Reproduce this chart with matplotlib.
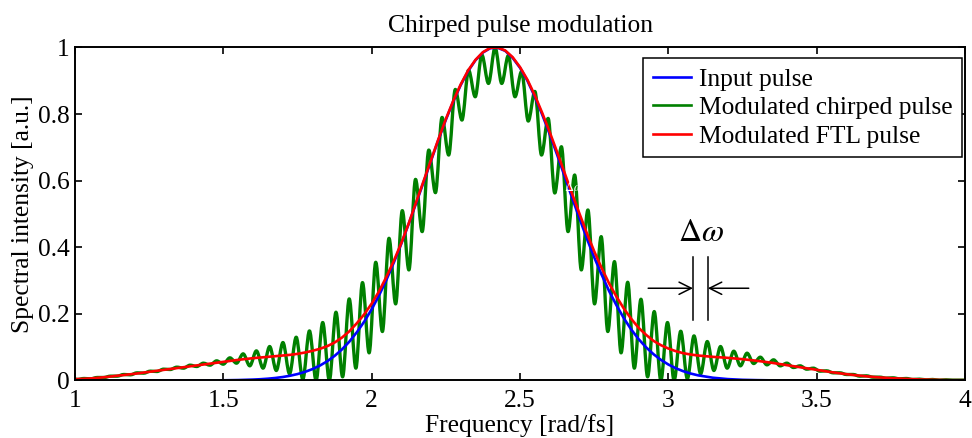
import numpy as np
import matplotlib
matplotlib.use("Agg")
import matplotlib.pyplot as plt
from matplotlib.path import Path
from matplotlib.patches import PathPatch
from matplotlib.lines import Line2D

plt.rcParams['font.family'] = ['Liberation Serif', 'DejaVu Serif']
plt.rcParams['mathtext.fontset'] = 'stix'

# frequency grid for the smooth curves (coarse in the wings, fine in the middle)
freq = np.concatenate([np.linspace(1.0, 1.55, 12),
                       np.linspace(1.6, 3.1, 61),
                       np.linspace(3.15, 4.0, 18)])

input_pulse = [0, 0, 0, 0, 0, 0, 0, 0, 0.0001, 0.0003, 0.0006, 0.0013,
               0.0027, 0.0038, 0.0054, 0.0075, 0.0104, 0.0143, 0.0193, 0.0258,
               0.0341, 0.0446, 0.0577, 0.0739, 0.0935, 0.117, 0.145, 0.177,
               0.214, 0.256, 0.303, 0.355, 0.411, 0.471, 0.533, 0.596, 0.660, 0.723,
               0.783, 0.838, 0.887, 0.929, 0.962, 0.985, 0.998, 0.999, 0.990, 0.969,
               0.939, 0.900, 0.852, 0.798, 0.740, 0.678, 0.614, 0.550, 0.488, 0.427,
               0.370, 0.318, 0.269, 0.226, 0.187, 0.153, 0.124, 0.0996, 0.079, 0.0619,
               0.048, 0.0368, 0.0279, 0.0209, 0.0155,
               0.0083, 0.0042, 0.0020, 0.0010, 0.0004, 0.0002, 0.0001,
               0, 0, 0, 0, 0, 0, 0, 0, 0, 0, 0]

ftl_pulse = [0.004, 0.006, 0.010, 0.015, 0.020, 0.026, 0.032, 0.038, 0.044, 0.050, 0.056, 0.062,
             0.067, 0.069, 0.071, 0.073, 0.075, 0.077, 0.080, 0.084,
             0.089, 0.095, 0.103, 0.114, 0.129, 0.148, 0.172, 0.199,
             0.231, 0.268, 0.312, 0.360, 0.413, 0.472, 0.536, 0.599, 0.662, 0.725,
             0.785, 0.840, 0.889, 0.931, 0.963, 0.986, 0.999, 1.000, 0.991, 0.971,
             0.941, 0.903, 0.856, 0.803, 0.746, 0.686, 0.624, 0.562, 0.502, 0.443,
             0.388, 0.338, 0.292, 0.252, 0.216, 0.185, 0.158, 0.137, 0.119, 0.106,
             0.096, 0.088, 0.082, 0.078, 0.075,
             0.071, 0.068, 0.064, 0.059, 0.053, 0.046, 0.039, 0.032, 0.025,
             0.019, 0.014, 0.010, 0.007, 0.005, 0.003, 0.002, 0.001, 0.001]

# chirped pulse: fringe extrema (peaks and troughs alternate), plus the two end points
fringe_center = 2.416
fringe_half_step = 0.02235
chirped_freq = np.concatenate([[1.0],
                               fringe_center + fringe_half_step * np.arange(-63, 71),
                               [4.0]])
chirped_pulse = [0.004,
                 0.003, 0.006, 0.005, 0.009, 0.009, 0.013, 0.013, 0.018, 0.017, 0.023, 0.022, 0.028,
                 0.027, 0.034, 0.033, 0.040, 0.037, 0.046, 0.042, 0.052, 0.046, 0.059, 0.049, 0.068,
                 0.052, 0.080, 0.044, 0.089, 0.037, 0.102, 0.030, 0.114, 0.020, 0.130,
                 0.003, 0.149, 0.000, 0.174, 0.000, 0.205, 0.011, 0.245, 0.037, 0.294,
                 0.083, 0.355, 0.147, 0.427, 0.230, 0.510, 0.332, 0.604, 0.447, 0.692,
                 0.564, 0.790, 0.677, 0.874, 0.782, 0.932, 0.852, 0.978, 0.892, 1.000,
                 0.892, 0.976, 0.852, 0.928, 0.779, 0.868, 0.677, 0.787, 0.563, 0.702,
                 0.447, 0.617, 0.332, 0.512, 0.230, 0.432, 0.147, 0.357, 0.083, 0.295,
                 0.037, 0.244, 0.011, 0.207, 0.000, 0.174, 0.000, 0.148, 0.005, 0.134,
                 0.020, 0.117, 0.030, 0.102, 0.037, 0.088, 0.044, 0.082, 0.051, 0.070,
                 0.047, 0.062, 0.044, 0.052, 0.039, 0.044, 0.034, 0.037, 0.028, 0.029,
                 0.023, 0.023, 0.018, 0.018, 0.013, 0.014, 0.010, 0.010, 0.007, 0.008,
                 0.005, 0.006, 0.003, 0.004, 0.002, 0.003, 0.001, 0.002, 0.001, 0.001,
                 0.001]

series_labels = ['Input pulse', 'Modulated chirped pulse', 'Modulated FTL pulse']
xticks = [1, 1.5, 2, 2.5, 3, 3.5, 4]
xtick_labels = ['1', '1.5', '2', '2.5', '3', '3.5', '4']
yticks = [0, 0.2, 0.4, 0.6, 0.8, 1]
ytick_labels = ['0', '0.2', '0.4', '0.6', '0.8', '1']

# spacing marker (left / right fringe edge) and its arrows
mark_left, mark_right = 3.083, 3.133
mark_bottom, mark_top = 0.182, 0.372
arrow_y = 0.277
arrow_from_left, arrow_from_right = 2.932, 3.271

BLUE = '#0000ff'
GREEN = '#008000'
RED = '#ff0000'
FS = 18.4


def fringe_path(xs, ys):
    """ smooth path through the extrema, flat tangent at each one """
    verts = [(xs[0], ys[0])]
    codes = [Path.MOVETO]
    for i in range(len(xs) - 1):
        h = xs[i + 1] - xs[i]
        verts += [(xs[i] + h / 3, ys[i]), (xs[i + 1] - h / 3, ys[i + 1]), (xs[i + 1], ys[i + 1])]
        codes += [Path.CURVE4] * 3
    return Path(verts, codes)


fig = plt.figure(figsize=(9.72, 4.38), dpi=100)
ax = fig.add_axes([0.0772, 0.1313, 0.9156, 0.7603])

ax.plot(freq, input_pulse, color=BLUE, lw=1.9)
ax.add_patch(PathPatch(fringe_path(chirped_freq, chirped_pulse), fill=False,
                       edgecolor=GREEN, lw=2.4, capstyle='round', joinstyle='round'))
ax.plot(freq, ftl_pulse, color=RED, lw=1.9)

ax.set_xlim(1, 4)
ax.set_ylim(0, 1)
ax.set_xticks(xticks)
ax.set_xticklabels(xtick_labels)
ax.set_yticks(yticks)
ax.set_yticklabels(ytick_labels)
ax.tick_params(direction='in', top=True, right=True, length=5, width=1.2,
               labelsize=FS, pad=4)
ax.tick_params(axis='x', pad=7)
for sp in ax.spines.values():
    sp.set_linewidth(1.4)

ax.set_title('Chirped pulse modulation', fontsize=FS, pad=11)
ax.set_xlabel('Frequency [rad/fs]', fontsize=FS, labelpad=1)
ax.set_ylabel('Spectral intensity [a.u.]', fontsize=FS, labelpad=3)

handles = [Line2D([], [], color=BLUE, lw=1.9),
           Line2D([], [], color=GREEN, lw=1.9),
           Line2D([], [], color=RED, lw=1.9)]
leg = ax.legend(handles, series_labels, loc='upper right', bbox_to_anchor=(0.997, 0.968),
                fontsize=FS, fancybox=False, edgecolor='k', framealpha=1,
                borderaxespad=0, handlelength=1.5, handletextpad=0.3,
                labelspacing=0.22, borderpad=0.38)
leg.get_frame().set_linewidth(1.1)

# delta-omega marker
ax.plot([mark_left, mark_left], [mark_bottom, mark_top], color='k', lw=1.1)
ax.plot([mark_right, mark_right], [mark_bottom, mark_top], color='k', lw=1.1)
ax.annotate('', xy=(mark_left, arrow_y), xytext=(arrow_from_left, arrow_y),
            arrowprops=dict(arrowstyle='->', color='k', lw=1.1, shrinkA=0, shrinkB=0,
                            mutation_scale=22))
ax.annotate('', xy=(mark_right, arrow_y), xytext=(arrow_from_right, arrow_y),
            arrowprops=dict(arrowstyle='->', color='k', lw=1.1, shrinkA=0, shrinkB=0,
                            mutation_scale=22))
ax.text(3.111, 0.44, r'$\Delta\omega$', fontsize=23, ha='center', va='center')
ax.text(2.679, 0.58, r'$\Delta\omega$', fontsize=9, color='white', ha='center', va='center')

plt.savefig('out.png', dpi=100)
